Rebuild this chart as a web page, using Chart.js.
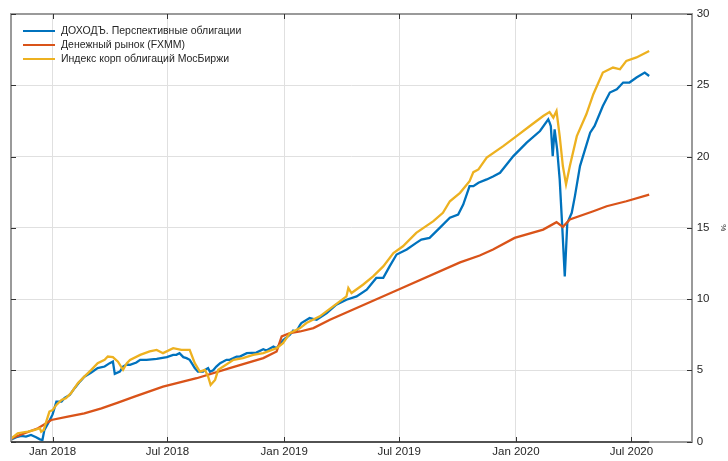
<!DOCTYPE html>
<html>
<head>
<meta charset="utf-8">
<script src="https://cdn.jsdelivr.net/npm/chart.js@4/dist/chart.umd.min.js"></script>
<style>
  html, body { margin: 0; padding: 0; background: #ffffff; }
  #wrap { width: 728px; height: 461px; }
</style>
</head>
<body>
<div id="wrap"><canvas id="c" width="728" height="461"></canvas></div>
<script>
// x values are days since 2018-01-01; y values are cumulative return, %
const seriesLabels = ['ДОХОДЪ. Перспективные облигации', 'Денежный рынок (FXMM)', 'Индекс корп облигаций МосБиржи'];
const seriesColors = ['#0072BD', '#D95319', '#EDB120'];

const dohodDays = [-66,-65,-57,-49,-42,-34,-26,-20,-16,-13,-7,0,6,14,19,27,35,43,50,61,71,82,90,95,98,106,111,117,122,132,138,148,164,180,190,195,200,206,211,216,221,224,229,232,237,240,245,248,253,258,264,269,274,279,285,290,295,306,321,332,337,348,353,363,374,379,384,390,392,405,416,432,447,463,479,495,510,521,531,542,558,573,581,594,610,626,639,647,657,663,671,684,694,705,726,747,768,781,783,785,788,791,795,799,803,807,811,818,823,831,839,847,854,867,878,889,899,909,920,933,940];
const dohodVals = [0,0.15,0.30,0.39,0.34,0.46,0.30,0.15,0.10,0.80,1.28,1.9,2.8,2.8,3.06,3.27,3.76,4.2,4.55,4.84,5.15,5.26,5.5,5.61,4.75,4.91,5.26,5.4,5.38,5.54,5.73,5.73,5.8,5.92,6.08,6.08,6.2,5.92,5.85,5.73,5.38,5.15,4.9,4.91,4.9,5.03,5.15,4.9,5.0,5.26,5.5,5.61,5.73,5.73,5.85,5.96,5.96,6.2,6.24,6.48,6.39,6.67,6.55,7.1,7.5,7.78,7.72,8.19,8.31,8.66,8.54,9.02,9.6,9.95,10.18,10.65,11.48,11.48,12.29,13.12,13.47,13.94,14.17,14.29,14.99,15.7,15.93,16.63,17.92,17.92,18.16,18.39,18.6,18.86,20.03,20.97,21.79,22.61,22.4,22.14,20.03,21.9,20.5,18.39,15.1,11.59,15.34,16.05,17.22,19.33,20.5,21.67,22.14,23.54,24.49,24.72,25.19,25.19,25.54,25.89,25.65];

const fxmmDays = [-66,-65,-44,-23,-10,-2,24,50,77,103,129,174,227,279,332,353,361,374,390,411,437,547,642,673,694,728,773,794,804,815,852,873,904,940];
const fxmmVals = [0,0.22,0.58,0.93,1.28,1.51,1.74,1.98,2.33,2.73,3.15,3.85,4.44,5.15,5.85,6.32,7.37,7.61,7.72,7.96,8.54,10.7,12.57,13.05,13.47,14.29,14.87,15.39,15.06,15.58,16.16,16.51,16.86,17.33];

const corpDays = [-66,-65,-55,-39,-28,-20,-18,-14,-10,-5,0,6,14,21,29,40,50,61,71,82,87,95,103,111,117,122,138,153,164,174,190,203,216,224,232,240,245,249,256,261,269,285,300,316,332,353,363,374,379,390,400,421,442,463,466,471,489,505,521,537,552,573,600,615,626,642,657,663,671,684,710,731,752,773,783,789,794,799,804,809,815,826,841,852,867,883,894,904,920,940];
const corpVals = [0,0.22,0.58,0.69,0.81,0.93,0.69,0.81,1.39,2.1,2.2,2.57,2.92,3.04,3.39,4.1,4.55,5.03,5.5,5.73,5.96,5.92,5.6,5.03,5.5,5.73,6.08,6.32,6.43,6.2,6.55,6.43,6.43,5.5,4.91,5.03,4.56,3.97,4.32,5.03,5.26,5.73,5.85,6.08,6.2,6.55,6.9,7.61,7.72,7.96,8.31,8.78,9.48,10.18,10.77,10.42,11.0,11.59,12.29,13.23,13.7,14.64,15.46,16.05,16.86,17.45,18.27,18.9,19.09,19.92,20.73,21.43,22.14,22.84,23.12,22.73,23.19,21.43,19.33,18.04,19.33,21.43,22.96,24.37,25.89,26.24,26.12,26.71,26.95,27.41];

const xTickDays = [0, 181, 365, 546, 730, 912];
const xTickLabels = ['Jan 2018', 'Jul 2018', 'Jan 2019', 'Jul 2019', 'Jan 2020', 'Jul 2020'];
const yTicks = [0, 5, 10, 15, 20, 25, 30];

const toPts = (d, v) => d.map((x, i) => ({ x: x, y: v[i] }));

const FONT = "'Liberation Sans', Arial, sans-serif";

const boxPlugin = {
  id: 'boxPlugin',
  afterDraw(chart) {
    const { ctx, chartArea: a, scales } = chart;
    const L = Math.round(a.left), R = Math.round(a.right), T = Math.round(a.top), B = Math.round(a.bottom);
    ctx.save();
    // light box (left, top, right)
    ctx.strokeStyle = '#9a9a9a';
    ctx.lineWidth = 2;
    ctx.beginPath();
    ctx.moveTo(L, B); ctx.lineTo(L, T); ctx.lineTo(R, T); ctx.lineTo(R, B); ctx.lineTo(L, B);
    ctx.stroke();
    // darker bottom axis under the data span
    const lastX = scales.x.getPixelForValue(dohodDays[dohodDays.length - 1]);
    ctx.strokeStyle = '#3a3a3a';
    ctx.lineWidth = 1.6;
    ctx.beginPath();
    ctx.moveTo(L, B); ctx.lineTo(lastX, B);
    ctx.stroke();
    // inward tick marks
    const t = 5;
    ctx.strokeStyle = '#333333';
    ctx.lineWidth = 1;
    ctx.beginPath();
    xTickDays.forEach(d => {
      const px = Math.round(scales.x.getPixelForValue(d)) + 0.5;
      ctx.moveTo(px, B); ctx.lineTo(px, B - t);
      ctx.moveTo(px, T); ctx.lineTo(px, T + t);
    });
    yTicks.forEach(v => {
      const py = Math.round(scales.y.getPixelForValue(v)) + 0.5;
      ctx.moveTo(L, py); ctx.lineTo(L + t, py);
      ctx.moveTo(R, py); ctx.lineTo(R - t, py);
    });
    ctx.stroke();

    // legend
    const rows = [31, 45, 59];
    ctx.font = '10.5px ' + FONT;
    ctx.textBaseline = 'middle';
    ctx.textAlign = 'left';
    chart.data.datasets.forEach((ds, i) => {
      ctx.strokeStyle = ds.borderColor;
      ctx.lineWidth = 2;
      ctx.beginPath();
      ctx.moveTo(23, rows[i]); ctx.lineTo(55, rows[i]);
      ctx.stroke();
      ctx.fillStyle = '#262626';
      ctx.fillText(ds.label, 61, rows[i] + 0.5);
    });
    ctx.restore();
  }
};

new Chart(document.getElementById('c'), {
  type: 'line',
  data: {
    datasets: [
      { label: seriesLabels[0], data: toPts(dohodDays, dohodVals), borderColor: seriesColors[0], backgroundColor: seriesColors[0], borderWidth: 2.3, pointRadius: 0, tension: 0, order: 3 },
      { label: seriesLabels[1], data: toPts(fxmmDays, fxmmVals), borderColor: seriesColors[1], backgroundColor: seriesColors[1], borderWidth: 2.3, pointRadius: 0, tension: 0, order: 2 },
      { label: seriesLabels[2], data: toPts(corpDays, corpVals), borderColor: seriesColors[2], backgroundColor: seriesColors[2], borderWidth: 2.3, pointRadius: 0, tension: 0, order: 1 }
    ]
  },
  options: {
    responsive: false,
    animation: false,
    devicePixelRatio: 1,
    layout: { padding: { left: 10.7, top: 14, right: 0, bottom: 0 } },
    plugins: { legend: { display: false }, tooltip: { enabled: false } },
    scales: {
      x: {
        type: 'linear',
        position: 'bottom',
        min: -66,
        max: 1007,
        afterBuildTicks(scale) { scale.ticks = xTickDays.map(v => ({ value: v })); },
        afterFit(scale) { scale.height = 19.5; },
        ticks: {
          autoSkip: false,
          maxRotation: 0,
          padding: 3,
          color: '#262626',
          font: { family: FONT, size: 11.5 },
          callback(v) { const i = xTickDays.indexOf(v); return i >= 0 ? xTickLabels[i] : ''; }
        },
        grid: { color: '#e0e0e0', lineWidth: 1, drawTicks: false },
        border: { display: false }
      },
      y: {
        type: 'linear',
        position: 'right',
        min: 0,
        max: 30,
        afterBuildTicks(scale) { scale.ticks = yTicks.map(v => ({ value: v })); },
        afterFit(scale) { scale.width = 36.3; },
        ticks: {
          padding: 5,
          color: '#262626',
          font: { family: FONT, size: 11.5 }
        },
        title: { display: true, text: '%', color: '#262626', font: { family: FONT, size: 8 }, padding: { top: 0, bottom: 0 } },
        grid: { color: '#e0e0e0', lineWidth: 1, drawTicks: false },
        border: { display: false }
      }
    }
  },
  plugins: [boxPlugin]
});
</script>
</body>
</html>
